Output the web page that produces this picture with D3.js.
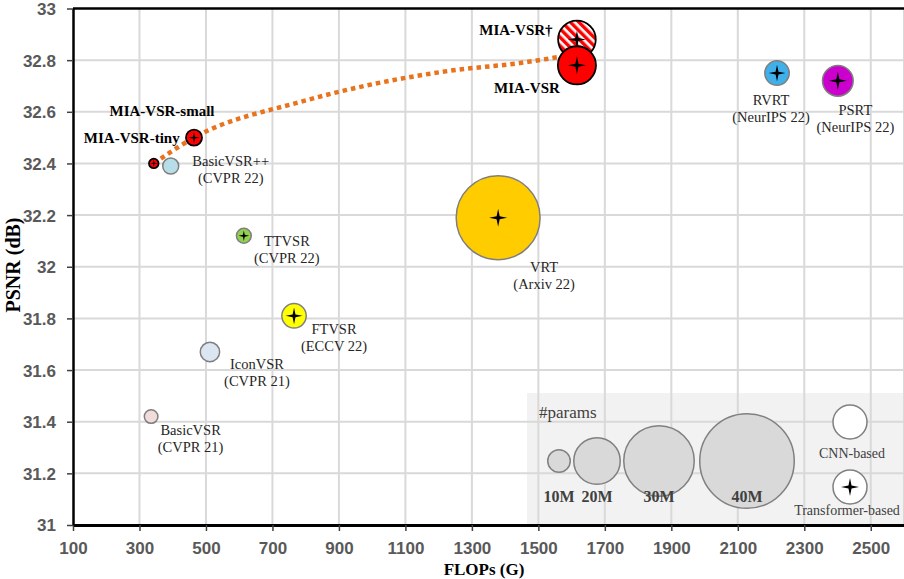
<!DOCTYPE html>
<html>
<head>
<meta charset="utf-8">
<script src="https://cdn.jsdelivr.net/npm/d3@7"></script>
<style>
  html, body { margin: 0; padding: 0; background: #ffffff; }
  svg { display: block; }
</style>
</head>
<body>
<svg id="chart" width="904" height="579"></svg>
<script>
// ---------------- data ----------------
const methods  = ["BasicVSR", "IconVSR", "BasicVSR++", "TTVSR", "FTVSR", "VRT", "RVRT", "PSRT",
                  "MIA-VSR-tiny", "MIA-VSR-small", "MIA-VSR†", "MIA-VSR"];
const venues   = ["(CVPR 21)", "(CVPR 21)", "(CVPR 22)", "(CVPR 22)", "(ECCV 22)", "(Arxiv 22)",
                  "(NeurIPS 22)", "(NeurIPS 22)", "", "", "", ""];
const flops    = [335, 512, 394, 614, 765, 1379, 2218, 2401, 343, 464, 1616, 1616];
const psnr     = [31.42, 31.67, 32.39, 32.12, 31.81, 32.19, 32.75, 32.72, 32.40, 32.50, 32.88, 32.78];
const params   = [6.3, 8.7, 7.3, 6.8, 10.8, 35.6, 10.8, 13.4, 4.6, 7.3, 16.3, 16.5];
const isTransformer = [false, false, false, true, true, true, true, true, true, true, true, true];
const isOurs   = [false, false, false, false, false, false, false, false, true, true, true, true];

const trendFlops = [343, 464, 783, 1234, 1445, 1565];
const trendPsnr  = [32.40, 32.50, 32.638, 32.759, 32.789, 32.813];

const xTicks = [100, 300, 500, 700, 900, 1100, 1300, 1500, 1700, 1900, 2100, 2300, 2500];
const yTicks = [31, 31.2, 31.4, 31.6, 31.8, 32, 32.2, 32.4, 32.6, 32.8, 33];
const legendParams = [10, 20, 30, 40];
const legendParamLabels = ["10M", "20M", "30M", "40M"];

// ---------------- styles / layout ----------------
const fills = ["#f2dcdb", "#dce6f2", "#b7dee8", "#92d050", "#ffff00", "#ffcc00", "#3fb0ea", "#cc00cc",
               "#ff0000", "#ff0000", "url(#hatch)", "#ff0000"];
// label offsets from point centre: [dx, dy(baseline)]
const labelOffsets = [[39.5, 18], [47, 17], [60, 0], [43, 10.7], [40, 17.7], [46, 54.7], [-6, 32], [17.5, 34],
                      [-22, -20], [-32, -22], [-61, -4], [-50, 28]];

const serif = "'Liberation Serif', 'Times New Roman', serif";
const tickFont = "'Liberation Sans Narrow', 'Arial Narrow', 'Liberation Sans', sans-serif";

const svg = d3.select("#chart");
const W = 904, H = 579;
const plot = { left: 73, right: 904, top: 8.5, bottom: 525 };

const x = d3.scaleLinear().domain([100, 2600]).range([plot.left, plot.right]);
const y = d3.scaleLinear().domain([31, 33]).range([plot.bottom, plot.top]);
const r = d3.scaleLinear().domain([0, 40]).range([0, 48]);

// defs: hatch pattern
const defs = svg.append("defs");
const pat = defs.append("pattern").attr("id", "hatch")
  .attr("patternUnits", "userSpaceOnUse").attr("width", 6).attr("height", 6)
  .attr("patternTransform", "rotate(-45)");
pat.append("rect").attr("width", 6).attr("height", 6).attr("fill", "#ffffff");
pat.append("rect").attr("width", 3.4).attr("height", 6).attr("fill", "#ff0000");
defs.append("clipPath").attr("id", "plotclip").append("rect")
  .attr("x", plot.left).attr("y", plot.top - 2).attr("width", plot.right - plot.left).attr("height", plot.bottom - plot.top + 2);

// legend background
const lg = { x0: 527, y0: 393 };
svg.append("rect").attr("x", lg.x0).attr("y", lg.y0).attr("width", W - lg.x0).attr("height", plot.bottom - lg.y0)
  .attr("fill", "#f2f2f2");

// grid
const grid = svg.append("g");
grid.selectAll("line.v").data(xTicks.concat([2600]).filter(d => d > 100)).join("line")
  .attr("x1", d => x(d)).attr("x2", d => x(d)).attr("y1", plot.top).attr("y2", plot.bottom)
  .attr("stroke", "#d9d9d9").attr("stroke-width", 2);
grid.selectAll("line.h").data(yTicks.filter(d => d > 31 && d < 33)).join("line")
  .attr("x1", plot.left).attr("x2", plot.right).attr("y1", d => y(d)).attr("y2", d => y(d))
  .attr("stroke", "#d9d9d9").attr("stroke-width", 2);

// axes
const xAxis = svg.append("g").attr("transform", `translate(0,${plot.bottom})`)
  .call(d3.axisBottom(x).tickValues(xTicks).tickSize(6).tickSizeOuter(0).tickFormat(d3.format("d")));
xAxis.select(".domain").attr("stroke", "#000").attr("stroke-width", 3);
xAxis.selectAll(".tick line").attr("stroke", "#404040").attr("stroke-width", 1.5);
xAxis.selectAll(".tick text").attr("font-family", tickFont).attr("font-weight", "bold")
  .attr("font-size", "17px").attr("fill", "#595959").attr("dy", "0").attr("y", 29);

const yAxis = svg.append("g").attr("transform", `translate(${plot.left},0)`)
  .call(d3.axisLeft(y).tickValues(yTicks).tickSize(6).tickSizeOuter(0).tickFormat(d3.format("~g")));
yAxis.select(".domain").attr("stroke", "#000").attr("stroke-width", 2.5);
yAxis.selectAll(".tick line").attr("stroke", "#404040").attr("stroke-width", 1.5);
yAxis.selectAll(".tick text").attr("font-family", tickFont).attr("font-weight", "bold")
  .attr("font-size", "17px").attr("fill", "#595959").attr("x", -17).attr("dy", "0.35em");

// top border
svg.append("line").attr("x1", plot.left).attr("x2", plot.right).attr("y1", plot.top).attr("y2", plot.top)
  .attr("stroke", "#000").attr("stroke-width", 2.5);

// axis titles
svg.append("text").attr("x", 484).attr("y", 575).attr("text-anchor", "middle")
  .attr("font-family", serif).attr("font-weight", "bold").attr("font-size", "17px").attr("fill", "#000")
  .text("FLOPs (G)");
svg.append("text").attr("transform", "translate(20,265) rotate(-90)").attr("text-anchor", "middle")
  .attr("font-family", serif).attr("font-weight", "bold").attr("font-size", "20px").attr("fill", "#000")
  .text("PSNR (dB)");

// star path
function starPath(s) {
  const h = s / 2, w = h * 0.17;
  return `M0,${-h} L${w},${-w} L${h},0 L${w},${w} L0,${h} L${-w},${w} L${-h},0 L${-w},${-w} Z`;
}

// legend contents
svg.append("text").attr("x", 539).attr("y", 418).attr("font-family", serif).attr("font-size", "17px")
  .attr("fill", "#404040").text("#params");
const gaps = [0, 2, 2, 4];
let cx = 547, prevR = 0;
const legendX = legendParams.map((p, i) => {
  const rr = r(p);
  cx = i === 0 ? cx + rr : cx + prevR + gaps[i] + rr;
  prevR = rr;
  return cx;
});
const lgItems = svg.append("g");
lgItems.selectAll("circle").data(legendParams).join("circle")
  .attr("cx", (d, i) => legendX[i]).attr("cy", 461).attr("r", d => r(d) - 0.75)
  .attr("fill", "#d9d9d9").attr("stroke", "#808080").attr("stroke-width", 1.5);
lgItems.selectAll("text").data(legendParamLabels).join("text")
  .attr("x", (d, i) => legendX[i]).attr("y", 501.5).attr("text-anchor", "middle")
  .attr("font-family", serif).attr("font-weight", "bold").attr("font-size", "16px").attr("fill", "#404040")
  .text(d => d);
svg.append("circle").attr("cx", 850).attr("cy", 422).attr("r", 17).attr("fill", "#ffffff")
  .attr("stroke", "#808080").attr("stroke-width", 1.5);
svg.append("text").attr("x", 852).attr("y", 458).attr("text-anchor", "middle").attr("font-family", serif)
  .attr("font-size", "14px").attr("fill", "#404040").text("CNN-based");
svg.append("circle").attr("cx", 850).attr("cy", 487).attr("r", 17).attr("fill", "#ffffff")
  .attr("stroke", "#808080").attr("stroke-width", 1.5);
svg.append("path").attr("transform", "translate(850,487)").attr("d", starPath(18)).attr("fill", "#000");
svg.append("text").attr("x", 847).attr("y", 515).attr("text-anchor", "middle").attr("font-family", serif)
  .attr("font-size", "14px").attr("fill", "#404040").text("Transformer-based");

// trend line
const trend = d3.line().x(d => x(d[0])).y(d => y(d[1])).curve(d3.curveMonotoneX);
svg.append("path").datum(trendFlops.map((f, i) => [f, trendPsnr[i]]))
  .attr("d", trend).attr("fill", "none").attr("stroke", "#e8731c").attr("stroke-width", 4.5)
  .attr("stroke-dasharray", "4.5 4");

// points
const idx = d3.range(methods.length);
const pts = svg.append("g").attr("clip-path", "url(#plotclip)");
const pg = pts.selectAll("g").data(idx).join("g")
  .attr("transform", i => `translate(${x(flops[i])},${y(psnr[i])})`);
pg.append("circle").attr("r", i => r(params[i]) - 0.75).attr("fill", i => fills[i])
  .attr("stroke", i => isOurs[i] ? "#000" : "#7f7f7f").attr("stroke-width", i => isOurs[i] ? 1.8 : 1.5);
pg.filter(i => isTransformer[i]).append("path")
  .attr("d", i => starPath(Math.min(18, r(params[i]) * 1.3))).attr("fill", "#000");

// labels
const lab = svg.append("g");
idx.forEach(i => {
  const px = x(flops[i]) + labelOffsets[i][0], py = y(psnr[i]) + labelOffsets[i][1];
  const t = lab.append("text").attr("x", px).attr("y", py).attr("text-anchor", "middle")
    .attr("font-family", serif).attr("fill", isOurs[i] ? "#000" : "#262626");
  if (isOurs[i]) {
    t.attr("font-weight", "bold").attr("font-size", "15px").text(methods[i]);
  } else {
    t.attr("font-size", "14.5px").text(methods[i]);
    lab.append("text").attr("x", px).attr("y", py + 17).attr("text-anchor", "middle")
      .attr("font-family", serif).attr("font-size", "14.5px").attr("fill", "#262626").text(venues[i]);
  }
});
</script>
</body>
</html>
